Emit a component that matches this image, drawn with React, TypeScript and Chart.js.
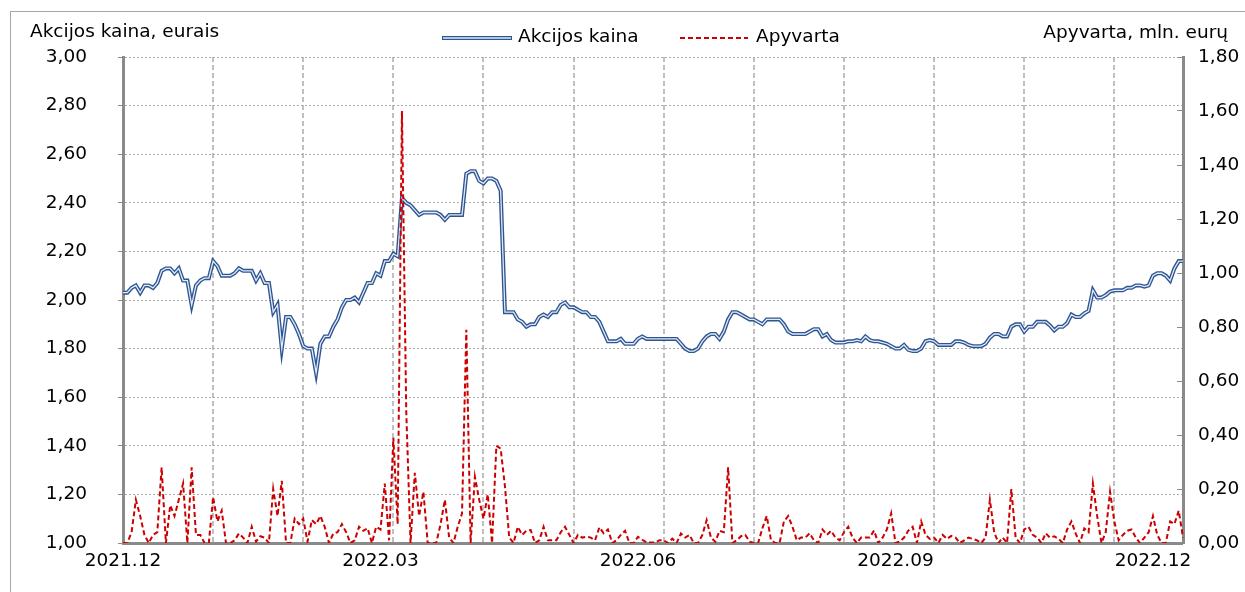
import React, { useEffect, useRef } from 'react';
import { Chart, registerables } from 'chart.js';

Chart.register(...registerables);

// ---- data ----
const priceTitle = 'Akcijos kaina, eurais';
const turnoverTitle = 'Apyvarta, mln. eurų';
const priceName = 'Akcijos kaina';
const turnoverName = 'Apyvarta';

// x-axis tick labels (shown every 60 trading days), vertical grid every 21 trading days
const tickLabels = ['2021.12', '2022.03', '2022.06', '2022.09', '2022.12'];
const labelEvery = 60;
const gridEvery = 21;

// share price, EUR (one value per trading day)
const price = [
  2.03, 2.03, 2.05, 2.06, 2.03, 2.06, 2.06, 2.05, 2.07, 2.12,
  2.13, 2.13, 2.11, 2.13, 2.08, 2.08, 1.98, 2.06, 2.08, 2.09,
  2.09, 2.16, 2.14, 2.10, 2.10, 2.10, 2.11, 2.13, 2.12, 2.12,
  2.12, 2.08, 2.11, 2.07, 2.07, 1.95, 1.98, 1.80, 1.93, 1.93,
  1.90, 1.86, 1.81, 1.80, 1.80, 1.70, 1.82, 1.85, 1.85, 1.89,
  1.92, 1.97, 2.00, 2.00, 2.01, 1.99, 2.03, 2.07, 2.07, 2.11,
  2.10, 2.16, 2.16, 2.19, 2.18, 2.42, 2.40, 2.39, 2.37, 2.35,
  2.36, 2.36, 2.36, 2.36, 2.35, 2.33, 2.35, 2.35, 2.35, 2.35,
  2.52, 2.53, 2.53, 2.49, 2.48, 2.50, 2.50, 2.49, 2.45, 1.95,
  1.95, 1.95, 1.92, 1.91, 1.89, 1.90, 1.90, 1.93, 1.94, 1.93,
  1.95, 1.95, 1.98, 1.99, 1.97, 1.97, 1.96, 1.95, 1.95, 1.93,
  1.93, 1.91, 1.87, 1.83, 1.83, 1.83, 1.84, 1.82, 1.82, 1.82,
  1.84, 1.85, 1.84, 1.84, 1.84, 1.84, 1.84, 1.84, 1.84, 1.84,
  1.82, 1.80, 1.79, 1.79, 1.80, 1.83, 1.85, 1.86, 1.86, 1.84,
  1.87, 1.92, 1.95, 1.95, 1.94, 1.93, 1.92, 1.92, 1.91, 1.90,
  1.92, 1.92, 1.92, 1.92, 1.90, 1.87, 1.86, 1.86, 1.86, 1.86,
  1.87, 1.88, 1.88, 1.85, 1.86, 1.835, 1.825, 1.825, 1.825, 1.83,
  1.83, 1.835, 1.83, 1.85, 1.835, 1.83, 1.83, 1.825, 1.82, 1.81,
  1.80, 1.80, 1.815, 1.795, 1.79, 1.79, 1.80, 1.83, 1.835, 1.83,
  1.815, 1.815, 1.815, 1.815, 1.83, 1.83, 1.825, 1.815, 1.81, 1.81,
  1.81, 1.82, 1.845, 1.86, 1.86, 1.85, 1.85, 1.89, 1.90, 1.90,
  1.87, 1.89, 1.89, 1.91, 1.91, 1.91, 1.895, 1.875, 1.89, 1.89,
  1.905, 1.94, 1.93, 1.93, 1.945, 1.955, 2.04, 2.01, 2.01, 2.02,
  2.035, 2.04, 2.04, 2.04, 2.05, 2.05, 2.06, 2.06, 2.055, 2.06,
  2.10, 2.11, 2.11, 2.10, 2.08, 2.13, 2.16, 2.16,
];

// turnover, mln. EUR
const turnover = [
  0, 0, 0.04, 0.16, 0.10, 0.03, 0, 0.03, 0.04, 0.28,
  0, 0.14, 0.10, 0.16, 0.22, 0, 0.28, 0.03, 0.03, 0,
  0, 0.17, 0.08, 0.12, 0, 0, 0.01, 0.035, 0.02, 0,
  0.06, 0.005, 0.025, 0.02, 0, 0.20, 0.10, 0.23, 0, 0,
  0.09, 0.07, 0.09, 0.005, 0.085, 0.07, 0.10, 0.06, 0, 0.035,
  0.04, 0.07, 0.04, 0, 0.01, 0.06, 0.045, 0.055, 0, 0.06,
  0.05, 0.22, 0.01, 0.39, 0.07, 1.60, 0.49, 0, 0.26, 0.10,
  0.19, 0, 0, 0, 0.07, 0.16, 0.02, 0, 0.06, 0.11,
  0.79, 0, 0.245, 0.16, 0.09, 0.18, 0, 0.36, 0.35, 0.21,
  0.02, 0, 0.06, 0.03, 0.045, 0.048, 0, 0.01, 0.06, 0.01,
  0.01, 0.01, 0.04, 0.06, 0.03, 0, 0.03, 0.02, 0.023, 0.02,
  0.01, 0.058, 0.036, 0.05, 0, 0.01, 0.03, 0.045, 0, 0,
  0.023, 0.012, 0.002, 0.002, 0.002, 0.01, 0.01, 0, 0.016, 0,
  0.035, 0.02, 0.03, 0, 0, 0.03, 0.085, 0.02, 0.005, 0.045,
  0.04, 0.28, 0, 0.01, 0.025, 0.03, 0.005, 0, 0, 0.055,
  0.10, 0.01, 0, 0, 0.08, 0.10, 0.06, 0.01, 0.02, 0.02,
  0.036, 0.01, 0, 0.05, 0.03, 0.045, 0.02, 0.01, 0.04, 0.06,
  0.02, 0, 0.02, 0.02, 0.02, 0.046, 0, 0.02, 0.05, 0.11,
  0, 0.005, 0.02, 0.046, 0.06, 0, 0.08, 0.03, 0.015, 0.02,
  0, 0.03, 0.015, 0.026, 0.02, 0, 0.01, 0.02, 0.015, 0.01,
  0, 0.02, 0.16, 0.04, 0, 0.02, 0, 0.20, 0.02, 0,
  0.05, 0.06, 0.03, 0.02, 0, 0.036, 0.02, 0.025, 0.015, 0,
  0.05, 0.08, 0.035, 0, 0.054, 0.04, 0.22, 0.10, 0, 0.04,
  0.19, 0.08, 0.01, 0.03, 0.045, 0.05, 0.02, 0, 0.02, 0.04,
  0.10, 0.03, 0, 0, 0.08, 0.07, 0.12, 0.02,
];

const categories = price.map((_, i) => i);

// ---- style ----
const FONT = '"DejaVu Sans", Verdana, sans-serif';
const FONT_SIZE = 18.5;
const PRICE_OUTER = '#2c5592';
const PRICE_INNER = '#e3eaf5';
const TURNOVER_COLOR = '#cc0000';
const AXIS_COLOR = '#8a8a8a';

const fmt = (v: number) => Number(v).toFixed(2).replace('.', ',');

const overlayPlugin = {
  id: 'overlayText',
  afterDraw(chart: any) {
    const c = chart.ctx as CanvasRenderingContext2D;
    c.save();
    c.font = `${FONT_SIZE}px ${FONT}`;
    c.fillStyle = '#000';
    c.textBaseline = 'middle';
    c.textAlign = 'left';
    c.fillText(priceTitle, 30, 32);
    c.textAlign = 'right';
    c.fillText(turnoverTitle, 1228, 33);

    // legend
    const ly = 38;
    c.lineCap = 'butt';
    c.strokeStyle = PRICE_OUTER;
    c.lineWidth = 4;
    c.beginPath();
    c.moveTo(442, ly);
    c.lineTo(512, ly);
    c.stroke();
    c.strokeStyle = PRICE_INNER;
    c.lineWidth = 1.3;
    c.beginPath();
    c.moveTo(443, ly);
    c.lineTo(511, ly);
    c.stroke();
    c.textAlign = 'left';
    c.fillText(priceName, 518, 37);

    c.strokeStyle = TURNOVER_COLOR;
    c.lineWidth = 2;
    c.setLineDash([5, 3]);
    c.beginPath();
    c.moveTo(680, ly);
    c.lineTo(748, ly);
    c.stroke();
    c.setLineDash([]);
    c.fillText(turnoverName, 756, 37);
    c.restore();
  },
};

export default function App() {
  const ref = useRef<HTMLCanvasElement>(null);

  useEffect(() => {
    if (!ref.current) return;
    Chart.defaults.font.family = FONT;
    Chart.defaults.font.size = FONT_SIZE;
    Chart.defaults.color = '#000';
    const chart = new Chart(ref.current, {
      type: 'line',
      data: {
        labels: categories,
        datasets: [
          {
            label: priceName,
            data: price,
            yAxisID: 'y',
            borderColor: PRICE_OUTER,
            borderWidth: 4,
            pointRadius: 0,
            tension: 0,
            order: 3,
          },
          {
            label: priceName + ' ',
            data: price,
            yAxisID: 'y',
            borderColor: PRICE_INNER,
            borderWidth: 1.3,
            pointRadius: 0,
            tension: 0,
            order: 2,
          },
          {
            label: turnoverName,
            data: turnover,
            yAxisID: 'y1',
            borderColor: TURNOVER_COLOR,
            borderWidth: 2,
            borderDash: [5, 3],
            pointRadius: 0,
            tension: 0,
            order: 1,
          },
        ],
      },
      options: {
        responsive: false,
        animation: false,
        devicePixelRatio: 1,
        layout: { padding: { left: 0, right: 0, top: 57, bottom: 0 } },
        plugins: { legend: { display: false }, tooltip: { enabled: false } },
        scales: {
          x: {
            type: 'category',
            offset: false,
            afterFit: (s: any) => {
              s.height = 49;
            },
            grid: {
              color: '#c0c0c0',
              lineWidth: (ctx: any) => (ctx.index > 0 && ctx.index % gridEvery === 0 ? 2 : 0),
              drawTicks: false,
              offset: false,
            },
            border: { display: true, color: AXIS_COLOR, width: 3, dash: [5, 3] },
            ticks: {
              autoSkip: false,
              maxRotation: 0,
              minRotation: 0,
              padding: 7,
              color: '#000',
              callback: (_v: any, i: number) => (i % labelEvery === 0 ? tickLabels[i / labelEvery] ?? '' : ''),
            },
          },
          y: {
            position: 'left',
            min: 1,
            max: 3,
            afterFit: (s: any) => {
              s.width = 123;
            },
            ticks: { stepSize: 0.2, padding: 31, color: '#000', callback: (v: any) => fmt(v) },
            grid: { color: '#ababab', lineWidth: 1, tickLength: 5, tickColor: AXIS_COLOR, tickWidth: 1 },
            border: { color: AXIS_COLOR, width: 3, dash: [2, 2] },
          },
          y1: {
            position: 'right',
            min: 0,
            max: 1.8,
            afterFit: (s: any) => {
              s.width = 62;
            },
            ticks: { stepSize: 0.2, padding: 21, color: '#000', callback: (v: any) => fmt(v) },
            grid: { drawOnChartArea: false, tickLength: -6, tickColor: AXIS_COLOR, tickWidth: 1 },
            border: { color: AXIS_COLOR, width: 3 },
          },
        },
      },
      plugins: [overlayPlugin],
    } as any);
    return () => chart.destroy();
  }, []);

  return (
    <div style={{ position: 'fixed', left: 0, top: 0, width: 1245, height: 592, background: '#fff', overflow: 'hidden' }}>
      <div
        style={{
          position: 'absolute',
          left: 10,
          top: 11,
          width: 1260,
          height: 620,
          border: '1px solid #a6a6a6',
          boxSizing: 'border-box',
        }}
      />
      <canvas
        ref={ref}
        width={1245}
        height={592}
        style={{ position: 'absolute', left: 0, top: 0, width: 1245, height: 592 }}
      />
    </div>
  );
}
